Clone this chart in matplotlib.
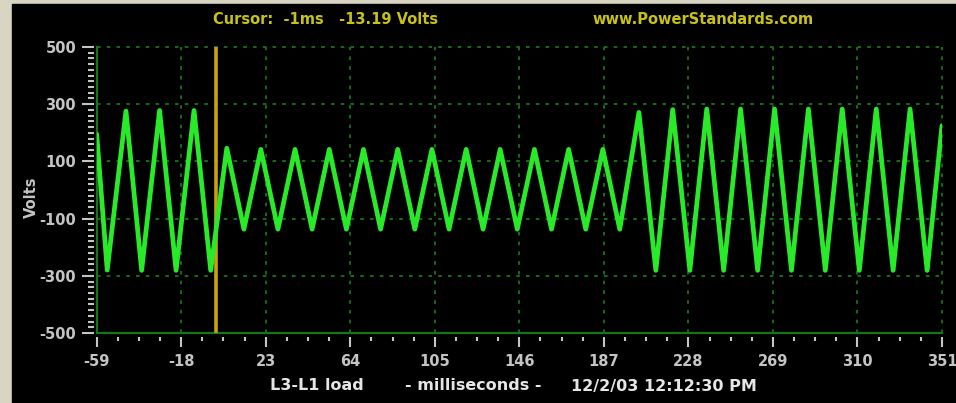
import matplotlib
matplotlib.use("Agg")
import matplotlib.pyplot as plt
from matplotlib.patches import Rectangle
from matplotlib.ticker import AutoMinorLocator

# axis ticks
x_ticks = [-59, -18, 23, 64, 105, 146, 187, 228, 269, 310, 351]
x_labels = ["-59", "-18", "23", "64", "105", "146", "187", "228", "269", "310", "351"]
y_ticks = [-500, -300, -100, 100, 300, 500]
y_labels = ["-500", "-300", "-100", "100", "300", "500"]

# waveform turning points (ms, volts)
wave_ms = [-59, -53.9, -44.8, -37.2, -28.5, -20.5, -11.8, -3.7,
           4.1, 12.4, 20.6, 28.9, 37.2, 45.5, 53.8, 62.1, 70.4, 78.7,
           87.0, 95.3, 103.6, 111.9, 120.2, 128.4, 136.7, 145.0, 153.3,
           161.6, 169.9, 178.2, 186.5, 194.7,
           204.0, 212.2, 220.4, 228.7, 236.9, 245.1, 253.3, 261.6, 269.8,
           278.0, 286.2, 294.4, 302.6, 310.9, 319.1, 327.3, 335.5, 343.8, 351]
wave_volts = [195, -280, 276, -281, 278, -281, 278, -281,
              146, -137, 142, -137, 142, -137, 142, -137, 142, -137,
              142, -137, 142, -137, 142, -137, 142, -137, 142,
              -137, 142, -137, 142, -137,
              271, -281, 281, -281, 283, -281, 283, -281, 283,
              -281, 283, -281, 283, -281, 283, -281, 283, -281, 225]

cursor_ms = -1
cursor_text = "Cursor:  -1ms   -13.19 Volts"
site_text = "www.PowerStandards.com"
channel = "L3-L1 load"
unit_text = "- milliseconds -"
stamp = "12/2/03 12:12:30 PM"

W, H = 956, 403
fig = plt.figure(figsize=(W / 100, H / 100), dpi=100, facecolor="#d9d5c3")
fig.patches.append(Rectangle((12 / W, 0), 1 - 12 / W, (H - 4) / H,
                             transform=fig.transFigure, color="black", zorder=-5))

ax = fig.add_axes([96.7 / W, (H - 333) / H, (942 - 96.7) / W, (333 - 47) / H])
ax.set_facecolor("black")

grid_col = "#177517"
txt_col = "#c4c4c4"
yellow = "#c8c214"

ax.set_xlim(x_ticks[0], x_ticks[-1])
ax.set_ylim(y_ticks[0], y_ticks[-1])

for s in ax.spines.values():
    s.set_visible(False)
ax.spines["left"].set_position(("outward", 2.2))
ax.spines["bottom"].set_position(("outward", 3))

# axis lines and dashed grid
ax.axvline(x_ticks[0], color=grid_col, lw=1.6, clip_on=False, zorder=1)
ax.axhline(y_ticks[0], color=grid_col, lw=1.6, clip_on=False, zorder=1)
for xv in x_ticks[1:]:
    ax.axvline(xv, color=grid_col, lw=1.3, ls=(0, (2.0, 3.4)), clip_on=False, zorder=1)
for yv in y_ticks[1:]:
    ax.axhline(yv, color=grid_col, lw=1.3, ls=(0, (2.0, 3.4)), clip_on=False, zorder=1)

ax.set_xticks(x_ticks)
ax.set_xticklabels(x_labels)
ax.set_yticks(y_ticks)
ax.set_yticklabels(y_labels)
ax.xaxis.set_minor_locator(AutoMinorLocator(4))
ax.yaxis.set_minor_locator(AutoMinorLocator(10))

ax.tick_params(axis="y", which="major", length=8.6, width=1.5, color=txt_col,
               labelcolor=txt_col, labelsize=10.5, pad=4)
ax.tick_params(axis="y", which="minor", length=4.3, width=1.5, color=txt_col)
ax.tick_params(axis="x", which="major", length=7.2, width=1.5, color=txt_col,
               labelcolor=txt_col, labelsize=10.5, pad=5)
ax.tick_params(axis="x", which="minor", length=2.9, width=1.5, color=txt_col)
for lab in ax.get_xticklabels() + ax.get_yticklabels():
    lab.set_fontweight("bold")

ax.axvline(cursor_ms, color="#c8a010", lw=2.6, zorder=2)
ax.plot(wave_ms, wave_volts, color="#28ea28", lw=3.4,
        solid_joinstyle="round", solid_capstyle="round", zorder=3)

fig.text(31 / W, (H - 197) / H, "Volts", rotation=90, color=txt_col,
         fontsize=10.5, fontweight="bold", ha="center", va="center")
fig.text(326 / W, (H - 20) / H, cursor_text, color=yellow, fontsize=10.5,
         fontweight="bold", ha="center", va="center")
fig.text(703 / W, (H - 20) / H, site_text, color=yellow, fontsize=10.5,
         fontweight="bold", ha="center", va="center")
fig.text(270 / W, (H - 386) / H, channel, color="#e6e6e6", fontsize=11.5,
         fontweight="bold", ha="left", va="center")
fig.text(405 / W, (H - 386) / H, unit_text, color="#e6e6e6", fontsize=11.5,
         fontweight="bold", ha="left", va="center")
fig.text(571 / W, (H - 386) / H, stamp, color="#e6e6e6", fontsize=11.5,
         fontweight="bold", ha="left", va="center")

fig.savefig("out.png", dpi=100, facecolor=fig.get_facecolor())
